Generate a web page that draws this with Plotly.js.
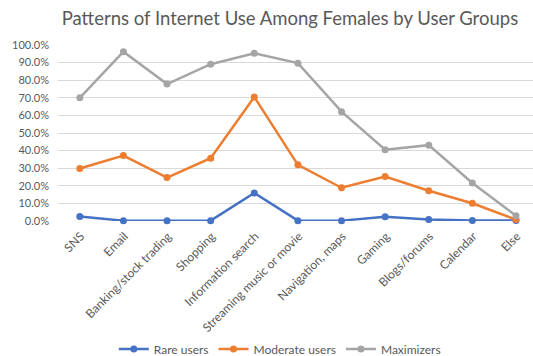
<!DOCTYPE html>
<html><head><meta charset="utf-8">
<script src="https://cdn.plot.ly/plotly-3.0.1.min.js"></script>
<style>html,body{margin:0;padding:0;overflow:hidden;background:#fff}</style>
</head><body><div id="chart" style="width:533px;height:356px"></div>
<script>
const categories = ["SNS","Email","Banking/stock trading","Shopping","Information search","Streaming music or movie","Navigation, maps","Gaming","Blogs/forums","Calendar","Else"];
const rareUsers = [2.5,0.2,0.2,0.2,15.9,0.2,0.2,2.4,0.8,0.3,0.3];
const moderateUsers = [29.8,37.2,24.7,35.7,70.5,31.9,18.9,25.3,17.2,10.1,0.8];
const maximizers = [70.0,96.2,77.8,89.1,95.3,89.7,62.1,40.5,43.1,21.6,3.0];
const seriesNames = ["Rare users","Moderate users","Maximizers"];
const colors = ["#4472C4","#ED7D31","#A5A5A5"];
const seriesData = [rareUsers, moderateUsers, maximizers];

const traces = seriesData.map((ys,i)=>({
  type:'scatter', mode:'lines+markers', x:categories, y:ys, name:seriesNames[i],
  line:{color:colors[i], width:2.5}, marker:{color:colors[i], size:7},
  cliponaxis:false
}));

const layout = {
  width:533, height:356,
  margin:{l:58, r:0, t:44.5, b:134.5},
  paper_bgcolor:'#fff', plot_bgcolor:'#fff',
  font:{family:'Lato, "Open Sans", sans-serif', color:'#595959', size:11},
  title:{text:'Patterns of Internet Use Among Females by User Groups', font:{size:18.5, color:'#595959', family:'Lato, sans-serif'},
    xref:'container', x:0.544, xanchor:'center', yref:'container', y:0.949, yanchor:'middle'},
  xaxis:{type:'category', range:[-0.5,10.39], showgrid:false, zeroline:false, showline:false, ticks:'',
    tickangle:-45, ticklabelstandoff:5, ticklabelshift:1, tickfont:{size:12, color:'#595959'}, fixedrange:true},
  yaxis:{range:[0,100], dtick:10, tickformat:'.1f', ticksuffix:'%', showgrid:true, gridcolor:'#D9D9D9', gridwidth:1,
    zeroline:false, showline:false, ticks:'', ticklabelstandoff:8, tickfont:{size:11, color:'#595959'}},
  showlegend:true,
  legend:{orientation:'h', xref:'container', x:0.525, xanchor:'center', yref:'container', y:0.02, yanchor:'middle',
    font:{size:12, color:'#595959'}, itemwidth:30, bgcolor:'rgba(0,0,0,0)'}
};
Plotly.newPlot('chart', traces, layout, {displayModeBar:false, staticPlot:true});
</script></body></html>
